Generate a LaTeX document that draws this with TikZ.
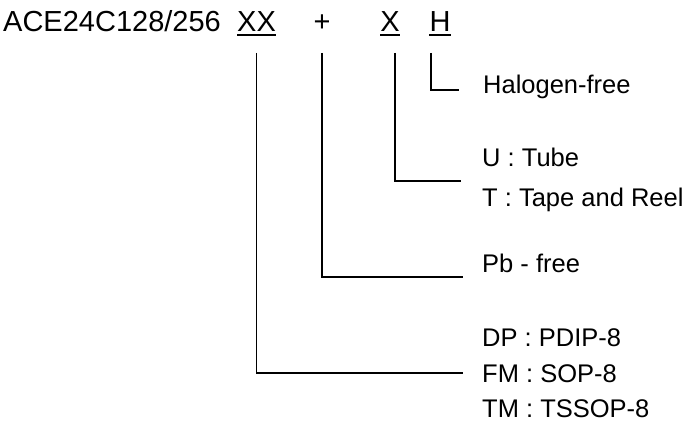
\documentclass[tikz,border=0pt]{standalone}
\usepackage{fontspec}
\setmainfont{Liberation Sans}
\usetikzlibrary{positioning}

\begin{document}
\begin{tikzpicture}[x=1pt,y=-1pt,
	tstyle/.style={inner sep=0pt, font=\fontsize{29}{34}\selectfont},
	lstyle/.style={inner sep=0pt, anchor=base west,
	font=\fontsize{25.5}{30}\selectfont},
	lnstyle/.style={line width=1.5pt},
	]
	\useasboundingbox (0,0) rectangle (693,427);
	\coordinate (top) at (0,53);

	\node[tstyle, anchor=base west] (name) at (3,32) {ACE24C128/256};
	\node[tstyle, anchor=base west] (xx) at (237,32) {XX};
	\node[tstyle, anchor=base] (plus) at (322,32) {+};
	\node[tstyle, anchor=base] (x) at (390,32) {X};
	\node[tstyle, anchor=base] (h) at (440,32) {H};

	\draw[lnstyle] ([yshift=-3pt]xx.south west) -- ([yshift=-3pt]xx.south east);
	\draw[lnstyle] ([yshift=-3pt]x.south west) -- ([yshift=-3pt]x.south east);
	\draw[lnstyle] ([yshift=-3pt]h.south west) -- ([yshift=-3pt]h.south east);

	\node[lstyle] (halo) at (483,94) {Halogen-free};
	\node[lstyle] (tube) at (482,167) {U : Tube};
	\node[lstyle] (reel) at (482,207) {T : Tape and Reel};
	\node[lstyle] (pb) at (482,273) {Pb - free};
	\node[lstyle] (dip) at (482,346) {DP : PDIP-8};
	\node[lstyle] (sop) at (482,382) {FM : SOP-8};
	\node[lstyle] (tssop) at (482,417) {TM : TSSOP-8};

	\coordinate (hend) at (459,90);
	\coordinate (xend) at (461,181);
	\coordinate (pend) at (463,277);
	\coordinate (xxend) at (463,373);

	\draw[lnstyle] ([xshift=-9pt]h.south |- top) |- (hend);
	\draw[lnstyle] ([xshift=5pt]x.south |- top) |- (xend);
	\draw[lnstyle] (plus.south |- top) |- (pend);
	\draw[lnstyle] (xx.south |- top) |- (xxend);
\end{tikzpicture}
\end{document}
